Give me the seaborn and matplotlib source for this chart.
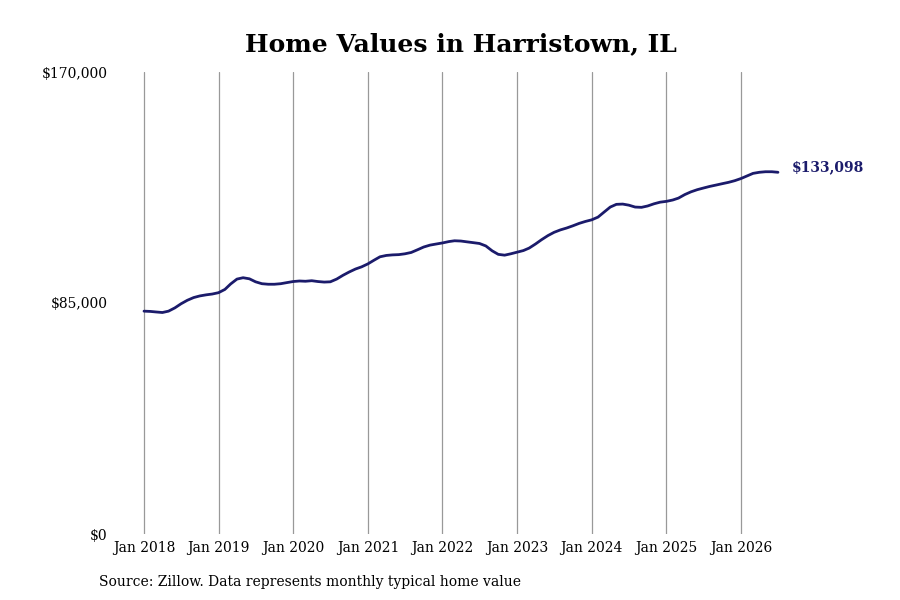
import numpy as np
import pandas as pd
import matplotlib.pyplot as plt
import seaborn as sns

# monthly typical home value, Jan 2018 - Jul 2026
values_2018 = [82000, 81900, 81700, 81500, 82000, 83200, 84700, 86000, 87000, 87600, 88000, 88300]
values_2019 = [88800, 90000, 92000, 93800, 94300, 93900, 92800, 92100, 91900, 91900, 92100, 92500]
values_2020 = [92900, 93100, 93000, 93200, 92900, 92700, 92800, 93800, 95200, 96400, 97500, 98300]
values_2021 = [99400, 100800, 102000, 102500, 102700, 102800, 103100, 103600, 104600, 105600, 106300, 106700]
values_2022 = [107100, 107600, 107900, 107800, 107500, 107200, 106900, 106000, 104200, 102900, 102600, 103100]
values_2023 = [103700, 104300, 105200, 106700, 108300, 109800, 111000, 111900, 112600, 113400, 114300, 115000]
values_2024 = [115600, 116600, 118400, 120300, 121300, 121400, 121000, 120300, 120200, 120700, 121500, 122100]
values_2025 = [122400, 122900, 123600, 124900, 125900, 126700, 127300, 127900, 128400, 128900, 129400, 130000]
values_2026 = [130800, 131800, 132700, 133100, 133300, 133300, 133098]

home_values = (values_2018 + values_2019 + values_2020 + values_2021 + values_2022
               + values_2023 + values_2024 + values_2025 + values_2026)
dates = pd.date_range("2018-01-01", periods=len(home_values), freq="MS")

y_ticks = [0, 85000, 170000]
y_tick_labels = ["$0", "$85,000", "$170,000"]
x_tick_years = list(range(2018, 2027))
x_tick_labels = [f"Jan {y}" for y in x_tick_years]

title = "Home Values in Harristown, IL"
source_note = "Source: Zillow. Data represents monthly typical home value"

df = pd.DataFrame({"date": dates, "value": home_values})

sns.set_style("white")
plt.rcParams['font.family'] = ['DejaVu Serif']
plt.rcParams['text.color'] = 'black'
plt.rcParams['xtick.color'] = 'black'
plt.rcParams['ytick.color'] = 'black'

line_color = "#1b1b6b"

fig = plt.figure(figsize=(9, 6), dpi=100)
ax = fig.add_axes([112 / 900, 66 / 600, (860 - 112) / 900, 462 / 600])

sns.lineplot(data=df, x="date", y="value", ax=ax, color=line_color, linewidth=2.0)

# place Jan 2018 / Jan 2026 at the same spots as the reference
start = pd.Timestamp("2018-01-01")
px_per_day = (741 - 144) / (pd.Timestamp("2026-01-01") - start).days
ax.set_xlim(start - pd.Timedelta(days=(144 - 112) / px_per_day),
            start + pd.Timedelta(days=(860 - 144) / px_per_day))
ax.set_ylim(0, 170000)

ax.set_xticks([pd.Timestamp(f"{y}-01-01") for y in x_tick_years])
ax.set_xticklabels(x_tick_labels, fontsize=10)
ax.set_yticks(y_ticks)
ax.set_yticklabels(y_tick_labels, fontsize=10)
ax.tick_params(axis="x", length=0, pad=5)
ax.tick_params(axis="y", length=0, pad=3)

ax.grid(axis="x", color="#999999", linewidth=0.9)
ax.grid(axis="y", visible=False)
for s in ax.spines.values():
    s.set_visible(False)
ax.set_xlabel("")
ax.set_ylabel("")

ax.annotate(f"${home_values[-1]:,}", xy=(dates[-1], home_values[-1]),
            xytext=(10, 4), textcoords="offset points",
            color=line_color, fontsize=10, fontweight="bold", va="center")

fig.text(461 / 900, 1 - 44 / 600, title, ha="center", va="center",
         fontsize=18, fontweight="bold")
fig.text(99 / 900, 1 - 582 / 600, source_note, ha="left", va="center", fontsize=10)

fig.savefig("out.png", dpi=100)
